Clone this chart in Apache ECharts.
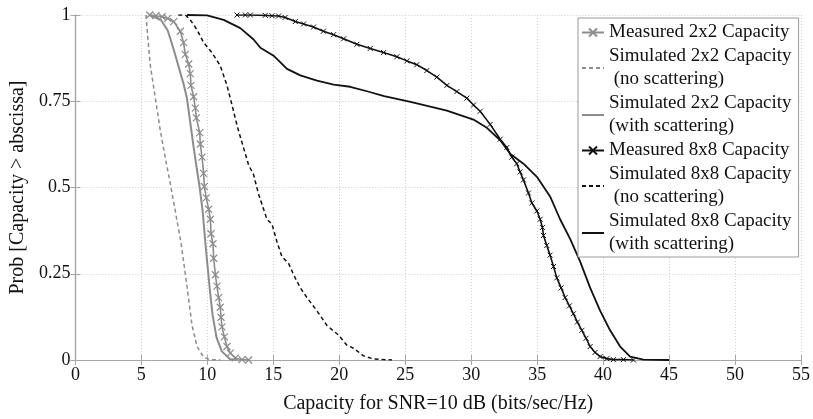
<!DOCTYPE html>
<html>
<head>
<meta charset="utf-8">
<script src="https://cdn.jsdelivr.net/npm/echarts@6/dist/echarts.min.js"></script>
<style>
  html, body { margin: 0; padding: 0; background: #fff; }
  #chart { width: 813px; height: 419px; }
</style>
</head>
<body>
<div id="chart"></div>
<script>
// Complementary CDFs of capacity at SNR = 10 dB (x: bits/sec/Hz, p: probability)
const meas2x2X = [5.63, 6.1, 6.57, 7.0, 7.45, 7.95, 8.2, 8.33, 8.59, 8.71, 8.76, 8.96, 9.09, 9.17, 9.42, 9.47, 9.6, 9.72, 9.77, 9.92, 10.1, 10.23, 10.28, 10.43, 10.48, 10.61, 10.73, 10.86, 10.98, 11.04, 11.11, 11.29, 11.49, 11.74, 12.12, 12.63, 13.13];
const meas2x2P = [1.0, 0.998, 0.995, 0.99, 0.981, 0.953, 0.92, 0.886, 0.858, 0.83, 0.796, 0.763, 0.73, 0.702, 0.659, 0.626, 0.588, 0.541, 0.503, 0.47, 0.437, 0.408, 0.366, 0.337, 0.295, 0.247, 0.214, 0.181, 0.153, 0.124, 0.096, 0.067, 0.039, 0.02, 0.006, 0.001, 0.0];

const simNs2x2X = [5.35, 5.5, 5.68, 6.06, 6.44, 6.9, 7.2, 7.58, 8.0, 8.33, 8.59, 8.84, 9.22, 9.72, 10.2, 11.0];
const simNs2x2P = [1.0, 0.93, 0.853, 0.759, 0.664, 0.569, 0.51, 0.43, 0.34, 0.25, 0.175, 0.1, 0.039, 0.008, 0.001, 0.0];

const simSc2x2X = [5.63, 6.5, 7.0, 7.45, 7.9, 8.2, 8.45, 8.7, 8.95, 9.2, 9.42, 9.65, 9.85, 10.05, 10.2, 10.4, 10.7, 11.1, 11.7, 12.2];
const simSc2x2P = [1.0, 0.985, 0.955, 0.9, 0.84, 0.8, 0.76, 0.69, 0.62, 0.555, 0.5, 0.43, 0.34, 0.26, 0.2, 0.13, 0.065, 0.025, 0.003, 0.0];

const meas8x8X = [12.25, 12.88, 13.26, 14.39, 14.9, 15.4, 15.9, 16.67, 17.3, 18.05, 18.8, 19.57, 20.33, 21.34, 22.35, 23.36, 24.37, 25.13, 25.88, 26.64, 27.4, 28.16, 28.91, 29.67, 30.18, 30.68, 31.44, 32.2, 32.7, 33.08, 33.46, 33.71, 33.96, 34.34, 34.6, 34.98, 35.23, 35.4, 35.48, 35.73, 35.98, 36.24, 36.49, 36.82, 37.12, 37.45, 37.75, 38.05, 38.39, 38.71, 39.02, 39.39, 39.77, 40.28, 40.78, 41.54, 42.3];
const meas8x8P = [1.0, 1.0, 1.0, 0.999, 0.998, 0.997, 0.993, 0.981, 0.974, 0.965, 0.953, 0.943, 0.931, 0.915, 0.903, 0.891, 0.879, 0.867, 0.856, 0.839, 0.82, 0.796, 0.778, 0.759, 0.739, 0.721, 0.683, 0.64, 0.616, 0.588, 0.569, 0.545, 0.522, 0.484, 0.455, 0.432, 0.408, 0.384, 0.361, 0.332, 0.304, 0.271, 0.238, 0.209, 0.181, 0.157, 0.134, 0.11, 0.086, 0.063, 0.039, 0.022, 0.01, 0.004, 0.001, 0.001, 0.0];

const simNs8x8X = [7.8, 8.33, 8.71, 9.22, 9.72, 10.35, 10.98, 11.49, 11.87, 12.25, 12.63, 13.13, 13.5, 13.89, 14.52, 14.9, 15.28, 15.66, 16.16, 16.54, 17.05, 17.55, 18.3, 19.07, 19.95, 20.58, 21.1, 21.84, 22.6, 24.0];
const simNs8x8P = [1.0, 1.0, 0.986, 0.957, 0.92, 0.891, 0.853, 0.796, 0.739, 0.68, 0.63, 0.565, 0.538, 0.48, 0.408, 0.394, 0.342, 0.299, 0.28, 0.247, 0.209, 0.181, 0.143, 0.1, 0.072, 0.043, 0.034, 0.012, 0.003, 0.0];

const simSc8x8X = [8.46, 9.98, 11.24, 12.5, 13.51, 14.02, 15.02, 16.04, 17.05, 18.31, 19.57, 20.83, 22.1, 23.4, 25.4, 28.16, 30.17, 31.19, 32.2, 32.95, 33.96, 34.98, 35.98, 36.74, 37.5, 38.26, 39.02, 39.77, 40.53, 41.29, 42.05, 43.05, 45.0];
const simSc8x8P = [1.0, 0.999, 0.986, 0.962, 0.929, 0.905, 0.882, 0.844, 0.825, 0.81, 0.798, 0.792, 0.779, 0.765, 0.748, 0.723, 0.697, 0.673, 0.637, 0.598, 0.569, 0.531, 0.474, 0.408, 0.351, 0.285, 0.209, 0.143, 0.086, 0.039, 0.01, 0.001, 0.0];

const xTicks = [0, 5, 10, 15, 20, 25, 30, 35, 40, 45, 50, 55];
const yTicks = [0, 0.25, 0.5, 0.75, 1];

const seriesNames = [
  'Measured 2x2 Capacity',
  'Simulated 2x2 Capacity (no scattering)',
  'Simulated 2x2 Capacity (with scattering)',
  'Measured 8x8 Capacity',
  'Simulated 8x8 Capacity (no scattering)',
  'Simulated 8x8 Capacity (with scattering)'
];
const legendText = [
  'Measured 2x2 Capacity',
  'Simulated 2x2 Capacity\n (no scattering)',
  'Simulated 2x2 Capacity\n(with scattering)',
  'Measured 8x8 Capacity',
  'Simulated 8x8 Capacity\n (no scattering)',
  'Simulated 8x8 Capacity\n(with scattering)'
];
const hasMarker = [true, false, false, true, false, false];

const zip = (xs, ps) => xs.map((x, i) => [x, ps[i]]);

const GRAY = '#8c8c8c';
const BLACK = '#111111';
const AXIS = '#a6a6a6';
const FONT = '"Liberation Serif", "Times New Roman", serif';
const CROSS = 'path://M0,0L10,10M10,0L0,10';

function lineSeries(name, data, color, opts) {
  return Object.assign({
    name: name,
    type: 'line',
    data: data,
    xAxisIndex: 0,
    yAxisIndex: 0,
    symbol: 'none',
    animation: false,
    silent: true,
    lineStyle: { color: color, width: 1.6, type: 'solid' },
    itemStyle: { color: color }
  }, opts || {});
}

const chart = echarts.init(document.getElementById('chart'), null, { renderer: 'canvas' });

// top and right axes only close the frame: ticks inside, no labels
const boxAxis = {
  axisLine: { show: true, lineStyle: { color: AXIS, width: 1.2 } },
  axisTick: { show: true, inside: true, length: 5, lineStyle: { color: AXIS } },
  axisLabel: { show: false },
  splitLine: { show: false }
};

chart.setOption({
  backgroundColor: '#ffffff',
  animation: false,
  grid: { left: 75, right: 12, top: 15, bottom: 52, containLabel: false },
  xAxis: [
    {
      type: 'value', min: 0, max: 55, interval: 5, position: 'bottom',
      name: 'Capacity for SNR=10 dB (bits/sec/Hz)',
      nameLocation: 'middle', nameGap: 34,
      nameTextStyle: { fontFamily: FONT, fontSize: 20, color: '#111' },
      axisLine: { show: true, onZero: false, lineStyle: { color: AXIS, width: 1.2 } },
      axisTick: { show: true, inside: true, length: 5, lineStyle: { color: AXIS } },
      axisLabel: {
        fontFamily: FONT, fontSize: 18, color: '#111', margin: 6,
        formatter: v => xTicks.includes(v) ? String(v) : ''
      },
      splitLine: { show: true, lineStyle: { color: '#cfcfcf', type: [1, 2], width: 1 } }
    },
    Object.assign({ type: 'value', min: 0, max: 55, interval: 5, position: 'top' }, boxAxis)
  ],
  yAxis: [
    {
      type: 'value', min: 0, max: 1, interval: 0.25, position: 'left',
      name: 'Prob [Capacity > abscissa]',
      nameLocation: 'middle', nameGap: 45, nameRotate: 90,
      nameTextStyle: { fontFamily: FONT, fontSize: 20, color: '#111' },
      axisLine: { show: true, onZero: false, lineStyle: { color: AXIS, width: 1.2 } },
      axisTick: { show: true, inside: true, length: 5, lineStyle: { color: AXIS } },
      axisLabel: {
        fontFamily: FONT, fontSize: 18, color: '#111', margin: 5,
        formatter: v => yTicks.includes(v) ? String(v) : ''
      },
      splitLine: { show: true, lineStyle: { color: '#cfcfcf', type: [1, 2], width: 1 } }
    },
    Object.assign({ type: 'value', min: 0, max: 1, interval: 0.25, position: 'right' }, boxAxis)
  ],
  legend: {
    orient: 'vertical',
    left: 578, top: 18,
    padding: [3, 7, 1, 3],
    itemGap: 1,
    itemWidth: 22, itemHeight: 10,
    backgroundColor: '#ffffff',
    borderColor: '#9a9a9a', borderWidth: 1,
    borderRadius: 0,
    selectedMode: false,
    data: seriesNames.map((n, i) => hasMarker[i]
      ? { name: n }
      : { name: n, itemStyle: { opacity: 0 } }),
    formatter: name => legendText[seriesNames.indexOf(name)],
    textStyle: { fontFamily: FONT, fontSize: 19, color: '#111', lineHeight: 23 }
  },
  series: [
    lineSeries(seriesNames[0], zip(meas2x2X, meas2x2P), GRAY, {
      symbol: CROSS, symbolSize: 7, showSymbol: true,
      lineStyle: { color: GRAY, width: 1.6 },
      itemStyle: { color: 'none', borderColor: GRAY, borderWidth: 1.2 },
      z: 3
    }),
    lineSeries(seriesNames[1], zip(simNs2x2X, simNs2x2P), GRAY, {
      lineStyle: { color: GRAY, width: 1.5, type: [4, 3] }
    }),
    lineSeries(seriesNames[2], zip(simSc2x2X, simSc2x2P), GRAY, {
      lineStyle: { color: GRAY, width: 2 }
    }),
    lineSeries(seriesNames[3], zip(meas8x8X, meas8x8P), BLACK, {
      symbol: CROSS, symbolSize: 5, showSymbol: true,
      lineStyle: { color: BLACK, width: 1.6 },
      itemStyle: { color: 'none', borderColor: BLACK, borderWidth: 1 },
      z: 3
    }),
    lineSeries(seriesNames[4], zip(simNs8x8X, simNs8x8P), BLACK, {
      lineStyle: { color: BLACK, width: 1.5, type: [4, 3] }
    }),
    lineSeries(seriesNames[5], zip(simSc8x8X, simSc8x8P), BLACK, {
      lineStyle: { color: BLACK, width: 1.8 }
    })
  ]
});
</script>
</body>
</html>
